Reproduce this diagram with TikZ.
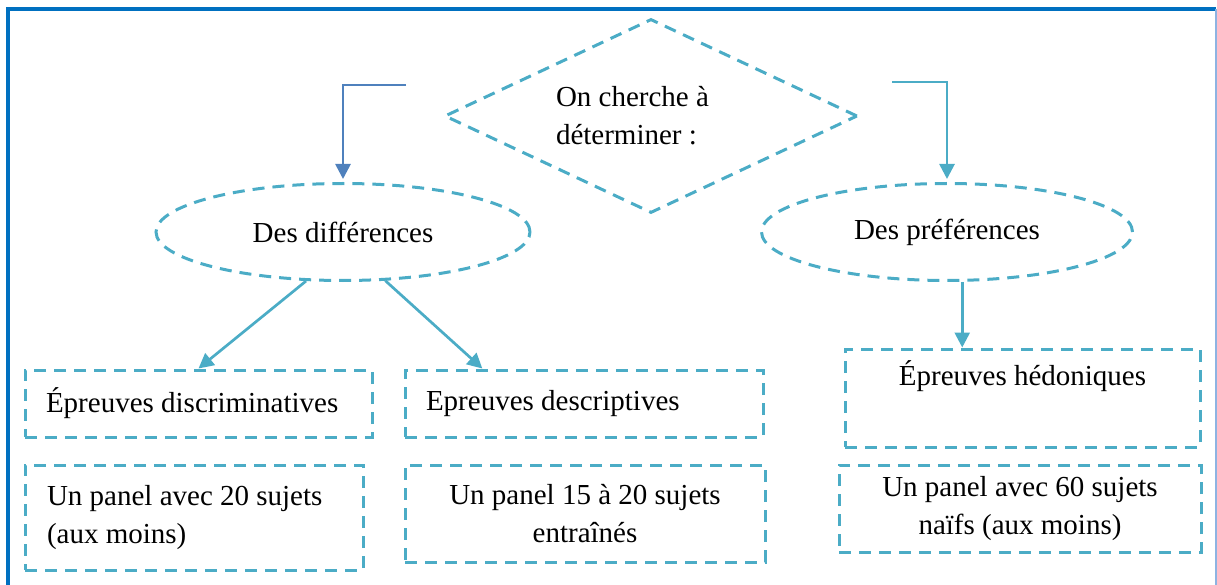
\documentclass[tikz,border=0pt]{standalone}
\usepackage{fontspec}
\setmainfont{Liberation Serif}
\usetikzlibrary{shapes.geometric,arrows.meta}
\definecolor{cadre}{HTML}{0070C0}
\definecolor{bord}{HTML}{8DB3E2}
\definecolor{aqua}{HTML}{4BACC6}
\definecolor{bleu}{HTML}{4F81BD}
\tikzset{
  tirets/.style={draw=aqua, line width=3pt, dash pattern=on 12pt off 8pt},
  boite/.style={tirets, rectangle, inner ysep=0pt, inner xsep=21pt},
  fleche/.style={line width=2.7pt, -{Triangle[length=15pt,width=15pt]}},
}
\begin{document}
\begin{tikzpicture}[x=1pt,y=-1pt,font=\fontsize{29}{38}\selectfont]
  \useasboundingbox (0,0) rectangle (1217,585);
  \draw[cadre, line width=4pt] (8,585) -- (8,9) -- (1216,9);
  \draw[bord, line width=1.5pt] (1216,9) -- (1216,585);

  \node[tirets, diamond, aspect=2.13, inner sep=0pt, minimum width=413pt, minimum height=194pt,
        text width=190pt, align=flush left] (q) at (651,116) {On cherche à\\déterminer :};

  \node[tirets, ellipse, minimum width=374pt, minimum height=97pt] (dif) at (343,232) {Des différences};
  \node[tirets, ellipse, minimum width=371pt, minimum height=97pt] (pref) at (947,232) {Des préférences};

  \node[boite, minimum width=347pt, minimum height=67pt, text width=305pt, align=flush left] (discr) at (198.5,403.5) {Épreuves discriminatives};
  \node[boite, minimum width=358pt, minimum height=67pt, text width=316pt, align=flush left] (descr) at (584,403.5) {Epreuves descriptives};
  \node[boite, minimum width=355pt, minimum height=98pt, text width=313pt, align=flush center] (hedo) at (1022.5,398) {Épreuves hédoniques\\\strut};

  \node[boite, minimum width=338pt, minimum height=105pt, text width=294pt, align=flush left] (pan1) at (194,517.5) {Un panel avec 20 sujets\\(aux moins)};
  \node[boite, minimum width=360pt, minimum height=97pt, text width=318pt, align=flush center] (pan2) at (585,513.5) {Un panel 15 à 20 sujets\\entraînés};
  \node[boite, minimum width=362pt, minimum height=87pt, text width=320pt, align=flush center] (pan3) at (1020,508.5) {Un panel avec 60 sujets\\naïfs (aux moins)};

  \coordinate (g) at (406,85);
  \coordinate (d) at (892,82);
  \draw[fleche, bleu, shorten >=3pt] (g) -| (dif.north);
  \draw[fleche, aqua, shorten >=3pt] (d) -| (pref.north);
  \draw[fleche, aqua] (dif.-127) -- (discr.north);
  \draw[fleche, aqua] (dif.-49) -- (descr.161.8);
  \draw[fleche, aqua] (pref.-73) -- (pref.-73 |- hedo.north);
\end{tikzpicture}
\end{document}
